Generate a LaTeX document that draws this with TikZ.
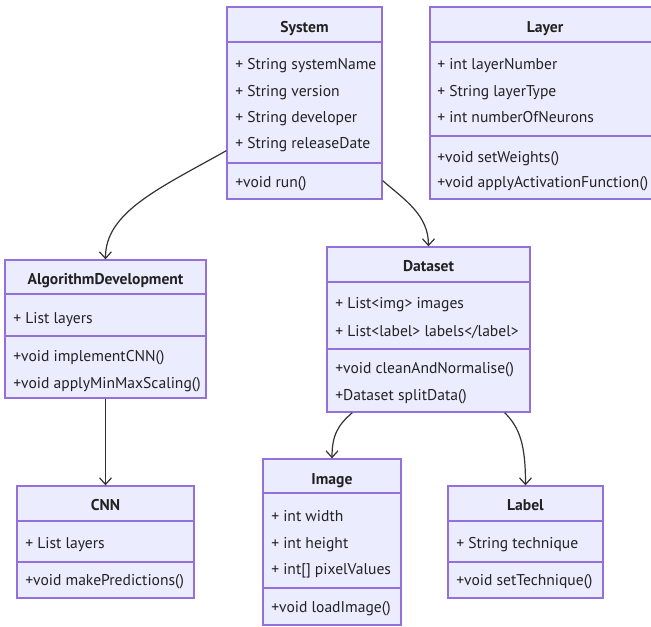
\documentclass[tikz,border=0pt]{standalone}
\usepackage{fontspec}
\setmainfont{PT Sans}
\usetikzlibrary{arrows.meta,calc,fit}
\definecolor{boxfill}{HTML}{ECECFF}
\definecolor{boxline}{HTML}{9370DB}
\definecolor{edge}{HTML}{333333}
\definecolor{ink}{HTML}{222222}
\tikzset{
  classbox/.style={draw=boxline, fill=boxfill, line width=1pt, inner sep=0pt, rectangle},
  divider/.style={draw=boxline, line width=1pt},
  ctitle/.style={anchor=mid, inner sep=0pt, yshift=-2.2pt, text=ink, font=\fontsize{11.7}{13}\selectfont\bfseries},
  member/.style={anchor=mid west, inner sep=0pt, yshift=-2.2pt, text=ink, font=\fontsize{11.7}{13}\selectfont},
  assoc/.style={draw=edge, line width=0.9pt, -{Straight Barb[length=5pt,width=9pt,line width=0.9pt]}}
}
\begin{document}
\begin{tikzpicture}[x=0.75pt,y=-0.75pt]
\clip (0,0) rectangle (651,626);
\fill[white] (0,0) rectangle (651,626);

% System
\node[classbox, fit={(227,7) (382,199)}] (system) {};
\draw[divider] (227,42) -- (382,42);
\draw[divider] (227,163) -- (382,163);
\node[ctitle] (systemT) at (304.5,26) {System};
\node[member] (systemA1) at (235,63) {+ String systemName};
\node[member] (systemA2) at (235,90) {+ String version};
\node[member] (systemA3) at (235,116) {+ String developer};
\node[member] (systemA4) at (235,142) {+ String releaseDate};
\node[member] (systemM1) at (235,181) {+void run()};

% Layer (runs past the right edge)
\node[classbox, fit={(430,7) (660,199)}] (layer) {};
\draw[divider] (430,42) -- (660,42);
\draw[divider] (430,136) -- (660,136);
\node[ctitle] (layerT) at (545,26) {Layer};
\node[member] (layerA1) at (437,63) {+ int layerNumber};
\node[member] (layerA2) at (437,90) {+ String layerType};
\node[member] (layerA3) at (437,116) {+ int numberOfNeurons};
\node[member] (layerM1) at (437,156) {+void setWeights()};
\node[member] (layerM2) at (437,181) {+void applyActivationFunction()};

% AlgorithmDevelopment
\node[classbox, fit={(5,260) (206,398)}] (algo) {};
\draw[divider] (5,294) -- (206,294);
\draw[divider] (5,336) -- (206,336);
\node[ctitle] (algoT) at (105.5,278) {AlgorithmDevelopment};
\node[member] (algoA1) at (13,317) {+ List layers};
\node[member] (algoM1) at (13,355) {+void implementCNN()};
\node[member] (algoM2) at (13,382) {+void applyMinMaxScaling()};

% Dataset
\node[classbox, fit={(327,247) (530,412)}] (dataset) {};
\draw[divider] (327,282) -- (530,282);
\draw[divider] (327,349) -- (530,349);
\node[ctitle] (datasetT) at (428.5,265) {Dataset};
\node[member] (datasetA1) at (335,302) {+ List<img> images};
\node[member] (datasetA2) at (335,330) {+ List<label> labels</label>};
\node[member] (datasetM1) at (335,367) {+void cleanAndNormalise()};
\node[member] (datasetM2) at (335,394) {+Dataset splitData()};

% CNN
\node[classbox, fit={(17,486) (194,598)}] (cnn) {};
\draw[divider] (17,521) -- (194,521);
\draw[divider] (17,562) -- (194,562);
\node[ctitle] (cnnT) at (105.5,504) {CNN};
\node[member] (cnnA1) at (25,542) {+ List layers};
\node[member] (cnnM1) at (25,579) {+void makePredictions()};

% Image
\node[classbox, fit={(263,459) (401,625)}] (image) {};
\draw[divider] (263,493) -- (401,493);
\draw[divider] (263,588) -- (401,588);
\node[ctitle] (imageT) at (332,478) {Image};
\node[member] (imageA1) at (271,515) {+ int width};
\node[member] (imageA2) at (271,542) {+ int height};
\node[member] (imageA3) at (271,568) {+ int[] pixelValues};
\node[member] (imageM1) at (271,606) {+void loadImage()};

% Label
\node[classbox, fit={(448,486) (603,598)}] (label) {};
\draw[divider] (448,521) -- (603,521);
\draw[divider] (448,562) -- (603,562);
\node[ctitle] (labelT) at (525.5,504) {Label};
\node[member] (labelA1) at (456,542) {+ String technique};
\node[member] (labelM1) at (456,579) {+void setTechnique()};

% Associations
\draw[assoc] ($(system.south west)+(0,-49)$) .. controls (160,188) and (105,212) .. (algo.north);
\draw[assoc] ($(system.south east)+(0,-19)$) .. controls (405,200) and (428.5,215) .. (dataset.north);
\draw[assoc] (algo.south) -- (cnn.north);
\draw[assoc] ($(dataset.south west)+(26,0)$) .. controls (338,425) and (332,435) .. (image.north);
\draw[assoc] ($(dataset.south east)+(-26,0)$) .. controls (520,428) and (525.5,445) .. (label.north);
\end{tikzpicture}
\end{document}
